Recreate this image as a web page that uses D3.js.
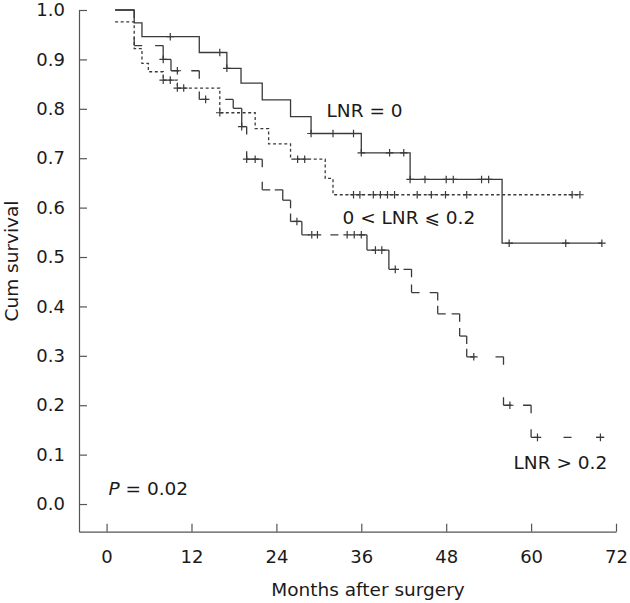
<!DOCTYPE html>
<html><head><meta charset="utf-8">
<script src="https://cdn.jsdelivr.net/npm/d3@7"></script>
<style>
body{margin:0;background:#fff}
text{font-family:"DejaVu Sans",Verdana,sans-serif;fill:#1a1a1a}
</style>
</head><body>
<svg id="c" width="630" height="603"></svg>
<script>
// ---- data ----
const xTicks = [0, 12, 24, 36, 48, 60, 72];
const yTicks = [0.0, 0.1, 0.2, 0.3, 0.4, 0.5, 0.6, 0.7, 0.8, 0.9, 1.0];

// LNR = 0 (solid)
const lnr0Times  = [1.2, 3.9, 5.0, 13.1, 17.0, 19.0, 22.0, 26.0, 28.9, 36.0, 42.9, 55.9];
const lnr0Surv   = [1.0, 0.974, 0.946, 0.914, 0.882, 0.852, 0.818, 0.784, 0.750, 0.711, 0.657, 0.528];
const lnr0End    = 70.0;
const lnr0Censor = [9.0, 16.0, 17.0, 28.9, 32.0, 34.9, 36.0, 40.0, 42.0, 42.9, 45.0, 48.0, 49.0, 53.0, 54.0, 56.9, 64.9, 70.0];

// 0 < LNR <= 0.2 (dotted)
const midTimes  = [1.2, 3.9, 5.0, 5.9, 8.0, 10.0, 16.0, 21.0, 22.9, 26.0, 30.9, 32.0];
const midSurv   = [0.976, 0.922, 0.892, 0.875, 0.858, 0.842, 0.792, 0.760, 0.729, 0.698, 0.659, 0.626];
const midEnd    = 67.0;
const midCensor = [8.0, 9.0, 10.0, 10.9, 16.0, 27.0, 28.0, 34.9, 35.8, 37.7, 38.7, 39.7, 40.7, 43.9, 45.9, 47.9, 50.9, 65.8, 66.9];

// LNR > 0.2 (long dashes)
const highTimes  = [1.2, 3.9, 8.0, 9.1, 13.1, 17.9, 19.1, 19.8, 22.0, 24.9, 26.0, 27.6, 36.8, 39.9, 43.1, 46.8, 49.9, 50.9, 56.1, 60.0];
const highSurv   = [1.0, 0.928, 0.900, 0.877, 0.819, 0.801, 0.764, 0.698, 0.636, 0.615, 0.572, 0.545, 0.514, 0.475, 0.428, 0.385, 0.340, 0.298, 0.200, 0.135];
const highEnd    = 70.3;
const highCensor = [8.0, 10.0, 14.0, 19.1, 19.8, 21.0, 26.9, 29.0, 29.8, 34.0, 35.0, 36.0, 38.0, 38.9, 40.8, 51.9, 57.0, 60.9, 69.8];

// ---- chart ----
const svg = d3.select("#c");
const x = d3.scaleLinear().domain([-3.9, 72]).range([79, 616]);
const y = d3.scaleLinear().domain([-0.056, 1.0]).range([531.7, 10]);
const axisColor = "#555";
const lineColor = "#3a3a3a";

const gx = svg.append("g").attr("transform", `translate(0,${y.range()[0]})`)
  .call(d3.axisBottom(x).tickValues(xTicks).tickSize(-8).tickSizeOuter(0).tickPadding(18.5));
const gy = svg.append("g").attr("transform", `translate(${x.range()[0]},0)`)
  .call(d3.axisLeft(y).tickValues(yTicks).tickFormat(d3.format(".1f")).tickSize(-8).tickSizeOuter(0).tickPadding(14));
[gx, gy].forEach(g => {
  g.select(".domain").attr("stroke", axisColor).attr("stroke-width", 1.2);
  g.selectAll(".tick line").attr("stroke", axisColor).attr("stroke-width", 1.2);
  g.selectAll(".tick text").attr("font-size", 18).attr("font-family", "DejaVu Sans").attr("fill", "#1a1a1a");
});

function stepPoints(times, surv, end) {
  const pts = times.map((t, i) => [t, surv[i]]);
  pts.push([end, surv[surv.length - 1]]);
  return pts;
}
function survAt(times, surv, t) {
  let v = surv[0];
  for (let i = 0; i < times.length; i++) if (times[i] <= t) v = surv[i];
  return v;
}
const stepLine = d3.line().x(d => x(d[0])).y(d => y(d[1])).curve(d3.curveStepAfter);

function censorMarks(times, surv, cens) {
  svg.append("g").selectAll("path").data(cens).join("path")
    .attr("d", t => {
      const cx = x(t), cy = y(survAt(times, surv, t));
      return `M${cx - 3.8},${cy}H${cx + 3.8}M${cx},${cy - 3.8}V${cy + 3.8}`;
    })
    .attr("stroke", lineColor).attr("stroke-width", 1.2).attr("fill", "none");
}

// solid
svg.append("path").datum(stepPoints(lnr0Times, lnr0Surv, lnr0End))
  .attr("d", stepLine).attr("fill", "none").attr("stroke", lineColor).attr("stroke-width", 1.3);
censorMarks(lnr0Times, lnr0Surv, lnr0Censor);

// dotted
svg.append("path").datum(stepPoints(midTimes, midSurv, midEnd))
  .attr("d", stepLine).attr("fill", "none").attr("stroke", lineColor).attr("stroke-width", 1.3)
  .attr("stroke-dasharray", "3,2.6");
censorMarks(midTimes, midSurv, midCensor);

// long-dashed: each step segment drawn with dashes at both ends
(function () {
  const pts = stepPoints(highTimes, highSurv, highEnd);
  const verts = [];
  for (let i = 0; i < pts.length - 1; i++) {
    verts.push([pts[i][0], pts[i][1]]);
    verts.push([pts[i + 1][0], pts[i][1]]);
  }
  verts.push(pts[pts.length - 1]);
  const segs = [];
  for (let i = 0; i < verts.length - 1; i++) {
    const a = [x(verts[i][0]), y(verts[i][1])], b = [x(verts[i + 1][0]), y(verts[i + 1][1])];
    const L = Math.hypot(b[0] - a[0], b[1] - a[1]);
    if (L > 0.01) segs.push({a, b, L});
  }
  const dsh = 8, gap = 16;
  svg.append("g").selectAll("line").data(segs).join("line")
    .attr("x1", s => s.a[0]).attr("y1", s => s.a[1]).attr("x2", s => s.b[0]).attr("y2", s => s.b[1])
    .attr("stroke", lineColor).attr("stroke-width", 1.3)
    .attr("stroke-dasharray", s => {
      if (s.L < 2 * dsh + 4) return null;
      const k = Math.max(1, Math.floor((s.L - dsh) / (dsh + gap)));
      const g = (s.L - (k + 1) * dsh) / k;
      return `${dsh},${g}`;
    });
})();
censorMarks(highTimes, highSurv, highCensor);

// ---- labels ----
svg.append("text").attr("x", 326.5).attr("y", 117).attr("font-size", 18.5).text("LNR = 0");
svg.append("text").attr("x", 342.5).attr("y", 223.5).attr("font-size", 18.5).text("0 < LNR \u2A7D 0.2");
svg.append("text").attr("x", 513.5).attr("y", 468.5).attr("font-size", 18.5).text("LNR > 0.2");
const p = svg.append("text").attr("x", 108.5).attr("y", 495).attr("font-size", 18.5);
p.append("tspan").attr("font-style", "italic").text("P");
p.append("tspan").text(" = 0.02");
svg.append("text").attr("x", 368).attr("y", 596).attr("font-size", 18.5).attr("text-anchor", "middle").text("Months after surgery");
svg.append("text").attr("transform", "translate(18,261) rotate(-90)").attr("font-size", 18.5)
  .attr("text-anchor", "middle").text("Cum survival");
</script>
</body></html>
